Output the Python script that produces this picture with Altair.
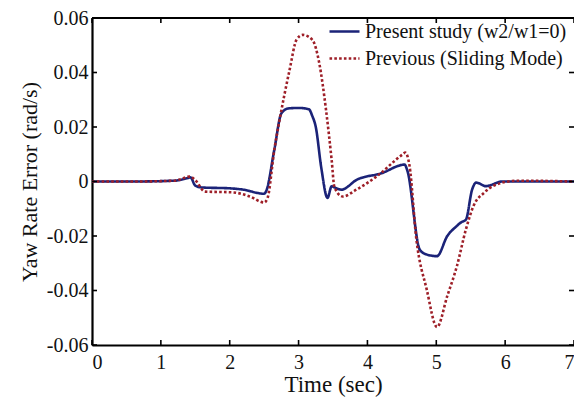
import altair as alt
import pandas as pd

# Present study (w2/w1=0)
t_present = [0.0, 0.6, 1.2, 1.38, 1.43, 1.5, 1.6, 2.0, 2.2, 2.5, 2.53, 2.65, 2.75, 2.85, 3.0, 3.15,
             3.2, 3.25, 3.33, 3.42, 3.48, 3.55, 3.62, 3.85, 4.2, 4.54, 4.58, 4.76, 4.85, 5.01,
             5.16, 5.29, 5.36, 5.43, 5.52, 5.58, 5.72, 5.96, 6.5, 7.0]
v_present = [0.0, 0.0, 0.0003, 0.0012, 0.0015, -0.0015, -0.0022, -0.0025, -0.003, -0.0045, -0.0035,
             0.012, 0.025, 0.0268, 0.027, 0.0265, 0.024, 0.02, 0.005, -0.006, -0.0018, -0.0025,
             -0.003, 0.0007, 0.003, 0.0062, 0.004, -0.025, -0.0267, -0.0274, -0.020, -0.0165,
             -0.015, -0.014, -0.003, -0.0004, -0.0017, 0.0, 0.0, 0.0]

# Previous (Sliding Mode)
t_previous = [0.0, 0.6, 1.2, 1.42, 1.5, 1.64, 2.05, 2.29, 2.5, 2.55, 2.65, 2.72, 2.87, 2.97, 3.06,
              3.2, 3.3, 3.4, 3.48, 3.52, 3.64, 3.84, 4.13, 4.51, 4.55, 4.61, 4.71, 4.86, 5.01,
              5.16, 5.3, 5.43, 5.54, 5.7, 5.96, 6.2, 7.0]
v_previous = [0.0, 0.0, 0.0003, 0.0018, 0.0005, -0.0037, -0.004, -0.0055, -0.0077, -0.006, 0.012,
              0.022, 0.041, 0.052, 0.0538, 0.052, 0.0435, 0.026, 0.008, -0.002, -0.0055, -0.003,
              0.0018, 0.0099, 0.0106, 0.006, -0.021, -0.0395, -0.0534, -0.042, -0.031, -0.0176,
              -0.009, -0.004, -0.0004, 0.0003, 0.0]

series_names = ["Present study (w2/w1=0)", "Previous (Sliding Mode)"]
series_colors = ["#1b2378", "#9e1f28"]

x_ticks = [0, 1, 2, 3, 4, 5, 6, 7]
y_ticks = [-0.06, -0.04, -0.02, 0.0, 0.02, 0.04, 0.06]

W, H = 482, 327
FONT = "Liberation Serif"

df = pd.concat([
    pd.DataFrame({"t": t_present, "v": v_present, "s": series_names[0], "o": 0}),
    pd.DataFrame({"t": t_previous, "v": v_previous, "s": series_names[1], "o": 1}),
])

xs = alt.Scale(domain=[0, 7], nice=False)
ys = alt.Scale(domain=[-0.06, 0.06], nice=False)

lines = alt.Chart(df).mark_line(strokeWidth=2.6, interpolate="monotone", clip=True).encode(
    x=alt.X("t:Q", scale=xs,
            axis=alt.Axis(values=x_ticks, title="Time (sec)", grid=False, tickSize=0,
                          labelPadding=7, titlePadding=1, format="d", titleFontSize=23)),
    y=alt.Y("v:Q", scale=ys,
            axis=alt.Axis(values=y_ticks, title="Yaw Rate Error (rad/s)", grid=False, tickSize=0,
                          labelPadding=4, titlePadding=5,
                          labelExpr="datum.value == 0 ? '0' : (datum.value < 0 ? '-' : '') + format(abs(datum.value), '.2f')")),
    color=alt.Color("s:N", scale=alt.Scale(domain=series_names, range=series_colors),
                    legend=alt.Legend(title=None, orient="none", legendX=236, legendY=-3,
                                      symbolType="stroke", symbolSize=900, symbolStrokeWidth=2.6,
                                      labelFontSize=20, labelFont=FONT, labelColor="#111",
                                      labelOffset=4, rowPadding=-4, labelLimit=0)),
    strokeDash=alt.StrokeDash("s:N", scale=alt.Scale(domain=series_names, range=[[1, 0], [2.6, 2.2]]),
                              legend=None),
    order="o:Q",
    detail="s:N",
)

tx = pd.DataFrame({"t": x_ticks})
ty = pd.DataFrame({"v": y_ticks})
tick_style = dict(color="black", strokeWidth=1.6)
bottom_ticks = alt.Chart(tx).mark_rule(**tick_style).encode(
    x=alt.X("t:Q", scale=xs), y=alt.value(H), y2=alt.value(H - 5))
top_ticks = alt.Chart(tx).mark_rule(**tick_style).encode(
    x=alt.X("t:Q", scale=xs), y=alt.value(0), y2=alt.value(5))
left_ticks = alt.Chart(ty).mark_rule(**tick_style).encode(
    y=alt.Y("v:Q", scale=ys), x=alt.value(0), x2=alt.value(5))
right_ticks = alt.Chart(ty).mark_rule(**tick_style).encode(
    y=alt.Y("v:Q", scale=ys), x=alt.value(W - 5), x2=alt.value(W))
top_line = alt.Chart(tx).mark_rule(color="black", strokeWidth=2.2).encode(
    x=alt.value(0), x2=alt.value(W), y=alt.value(0))

chart = alt.layer(lines, bottom_ticks, top_ticks, left_ticks, right_ticks, top_line).properties(
    width=W, height=H,
    autosize=alt.AutoSizeParams(type="none"),
    padding={"left": 92, "top": 18, "right": 0, "bottom": 54},
    background="white",
).configure_view(strokeWidth=0).configure_axis(
    domainColor="black", domainWidth=2.2, labelFont=FONT, titleFont=FONT,
    labelFontSize=20, titleFontSize=22, labelColor="#111", titleColor="#111",
    titleFontWeight="normal",
)

chart.save("out.html", embed_options={"renderer": "svg", "actions": False})
